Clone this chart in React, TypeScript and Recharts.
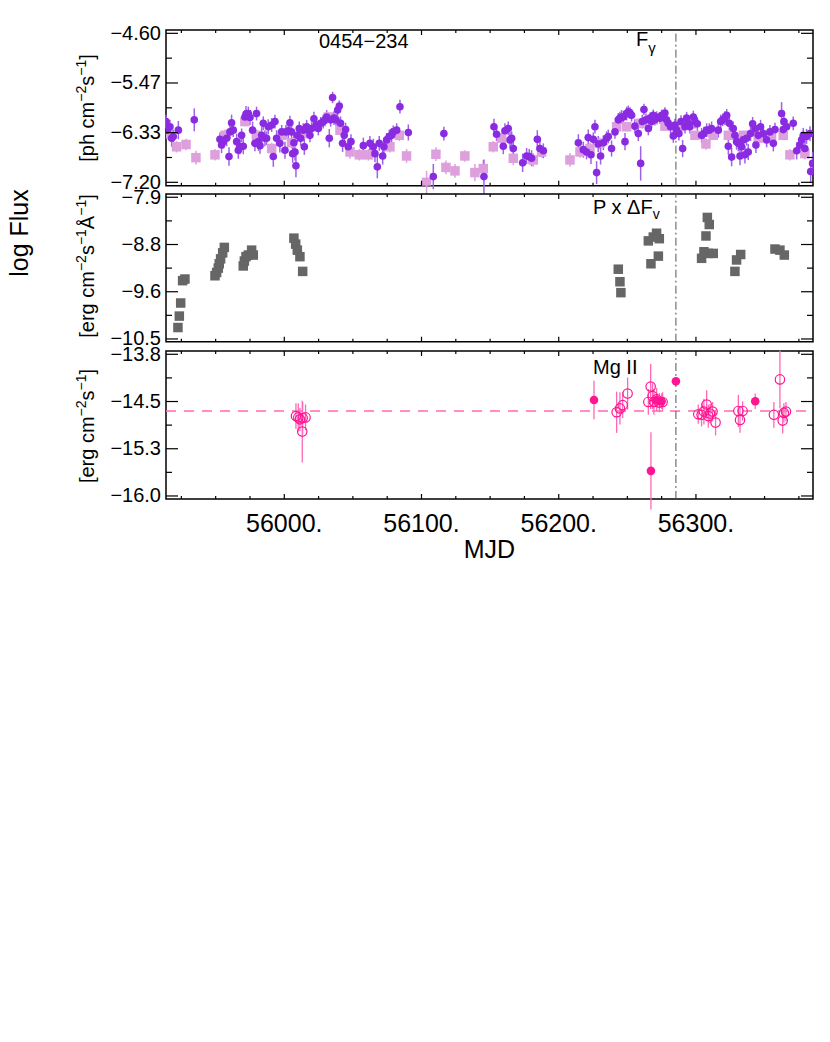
import React from "react";
import {
  ScatterChart,
  Scatter,
  XAxis,
  YAxis,
  ErrorBar,
  ReferenceLine,
  ReferenceArea,
} from "recharts";

const FONT = '"Liberation Sans", Arial, Helvetica, sans-serif';

// shared time axis (MJD)
const mjdDomain: [number, number] = [55913.8, 56385.3];
const mjdTicks = [
  55925, 55950, 55975, 56000, 56025, 56050, 56075, 56100, 56125, 56150, 56175,
  56200, 56225, 56250, 56275, 56300, 56325, 56350, 56375,
];
const mjdLabels = [56000, 56100, 56200, 56300];
const flareMjd = 56285.4;

// panel 1: gamma-ray flux
const gammaDomain: [number, number] = [-7.259, -4.542];
const gammaTicks = [-4.6, -5.0333, -5.4667, -5.9, -6.3333, -6.7667, -7.2];
const gammaTickLabels = ["\u22124.60", "", "\u22125.47", "", "\u22126.33", "", "\u22127.20"];

// weekly bins [mjd, logF, err]
const fermiWeekly: [number, number, number][] = [
  [55914.7, -6.35, 0.1], [55921.5, -6.58, 0.1], [55928.4, -6.54, 0.1], [55935.6, -6.77, 0.12],
  [55949.5, -6.72, 0.1], [55956.8, -6.38, 0.1], [55971.3, -6.14, 0.08], [55979.8, -6.38, 0.1],
  [55990.8, -6.61, 0.1], [55998.1, -6.38, 0.08], [56005.3, -6.51, 0.1], [56015.1, -6.35, 0.08],
  [56032.1, -6.06, 0.08], [56040.6, -6.29, 0.08], [56047.9, -6.67, 0.12], [56054.7, -6.72, 0.1],
  [56061.2, -6.72, 0.1], [56077.0, -6.58, 0.1], [56083.8, -6.38, 0.1], [56089.1, -6.74, 0.12],
  [56103.7, -7.2, 0.2], [56110.5, -6.71, 0.12], [56117.8, -6.94, 0.12], [56124.4, -7.0, 0.12],
  [56131.6, -6.74, 0.1], [56138.9, -7.03, 0.15], [56145.0, -6.96, 0.15], [56152.3, -6.58, 0.1],
  [56158.4, -6.43, 0.1], [56166.9, -6.78, 0.12], [56181.5, -6.81, 0.12], [56187.5, -6.67, 0.1],
  [56208.2, -6.81, 0.12], [56215.5, -6.67, 0.1], [56222.8, -6.61, 0.1], [56230.0, -6.52, 0.1],
  [56242.2, -6.23, 0.08], [56249.5, -6.23, 0.08], [56259.2, -6.17, 0.08], [56268.9, -6.11, 0.06],
  [56277.4, -6.22, 0.06], [56288.3, -6.23, 0.08], [56299.3, -6.38, 0.08], [56307.3, -6.53, 0.1],
  [56312.6, -6.38, 0.08], [56323.6, -6.38, 0.08], [56334.5, -6.38, 0.08], [56345.4, -6.43, 0.08],
  [56355.1, -6.38, 0.08], [56363.6, -6.38, 0.08], [56368.5, -6.72, 0.1], [56379.4, -6.7, 0.1],
];

// daily bins [mjd, logF, err]
const fermiDaily: [number, number, number][] = [
  [55913.8, -6.14, 0.12], [55914.7, -6.29, 0.14], [55916.7, -6.23, 0.12], [55917.9, -6.43, 0.15],
  [55919.1, -6.4, 0.12], [55922.8, -6.29, 0.16], [55934.4, -6.11, 0.2], [55953.1, -6.45, 0.12],
  [55954.3, -6.55, 0.14], [55955.6, -6.49, 0.12], [55958.0, -6.43, 0.14], [55959.7, -6.75, 0.16],
  [55960.4, -6.32, 0.12], [55961.6, -6.16, 0.14], [55962.8, -6.29, 0.12], [55965.3, -6.49, 0.14],
  [55966.5, -6.64, 0.15], [55967.7, -6.58, 0.13], [55968.9, -6.38, 0.12], [55970.1, -6.57, 0.14],
  [55971.3, -6.06, 0.12], [55972.1, -6.01, 0.14], [55973.8, -6.0, 0.12], [55975.0, -6.07, 0.13],
  [55976.9, -6.29, 0.15], [55978.6, -6.52, 0.14], [55979.8, -6.0, 0.12], [55981.1, -6.49, 0.16],
  [55982.3, -6.56, 0.14], [55983.5, -6.38, 0.15], [55984.7, -6.17, 0.12], [55985.9, -6.43, 0.14],
  [55987.1, -6.43, 0.12], [55988.3, -6.23, 0.13], [55990.8, -6.2, 0.12], [55992.0, -6.75, 0.18],
  [55993.2, -6.14, 0.12], [55994.4, -6.43, 0.14], [55996.8, -6.52, 0.16], [55998.1, -6.32, 0.12],
  [56000.5, -6.64, 0.15], [56001.2, -6.32, 0.12], [56002.9, -6.3, 0.13], [56004.1, -6.16, 0.12],
  [56005.3, -6.32, 0.12], [56006.1, -6.7, 0.16], [56007.0, -6.51, 0.14], [56007.8, -6.67, 0.15],
  [56008.5, -6.91, 0.2], [56009.5, -6.38, 0.12], [56010.9, -6.26, 0.12], [56011.9, -6.43, 0.13],
  [56013.8, -6.29, 0.12], [56014.6, -6.58, 0.14], [56016.3, -6.23, 0.12], [56017.5, -6.29, 0.11],
  [56018.7, -6.38, 0.12], [56019.9, -6.26, 0.11], [56021.6, -6.09, 0.12], [56023.1, -6.2, 0.11],
  [56024.8, -6.26, 0.12], [56026.5, -6.17, 0.11], [56028.4, -6.14, 0.12], [56029.6, -6.11, 0.11],
  [56030.9, -6.06, 0.12], [56032.8, -6.43, 0.16], [56033.8, -6.11, 0.12], [56035.2, -5.72, 0.1],
  [56036.2, -6.08, 0.12], [56037.7, -6.11, 0.11], [56038.9, -5.94, 0.11], [56040.1, -5.87, 0.1],
  [56041.0, -6.17, 0.12], [56042.5, -6.52, 0.15], [56043.7, -6.38, 0.13], [56044.7, -6.28, 0.12],
  [56046.6, -6.58, 0.14], [56048.6, -6.49, 0.13], [56057.6, -6.56, 0.14], [56062.4, -6.52, 0.13],
  [56064.9, -6.58, 0.14], [56066.1, -6.7, 0.15], [56067.8, -6.93, 0.2], [56069.2, -6.52, 0.13],
  [56071.7, -6.74, 0.15], [56072.6, -6.58, 0.13], [56074.6, -6.46, 0.12], [56076.5, -6.4, 0.12],
  [56078.2, -6.38, 0.12], [56079.4, -6.32, 0.11], [56081.9, -6.29, 0.12], [56084.3, -5.88, 0.12],
  [56090.4, -6.33, 0.14], [56108.6, -7.1, 0.22], [56116.3, -6.35, 0.12], [56145.5, -7.1, 0.3],
  [56152.8, -6.23, 0.14], [56154.7, -6.36, 0.12], [56159.6, -6.57, 0.14], [56160.8, -6.3, 0.13],
  [56163.2, -6.26, 0.12], [56164.5, -6.46, 0.14], [56165.7, -6.43, 0.12], [56166.9, -6.61, 0.14],
  [56173.7, -6.86, 0.16], [56176.6, -6.74, 0.14], [56178.5, -6.75, 0.13], [56180.2, -6.78, 0.14],
  [56184.4, -6.45, 0.16], [56186.3, -6.61, 0.14], [56188.8, -6.65, 0.13], [56214.3, -6.51, 0.15],
  [56217.9, -6.63, 0.14], [56220.3, -6.67, 0.13], [56221.5, -6.42, 0.14], [56223.5, -6.72, 0.16],
  [56225.2, -6.45, 0.12], [56226.4, -6.23, 0.12], [56227.6, -7.03, 0.2], [56228.8, -6.53, 0.14],
  [56230.5, -6.74, 0.15], [56232.5, -6.51, 0.13], [56234.9, -6.43, 0.12], [56236.1, -6.4, 0.12],
  [56238.5, -6.61, 0.14], [56241.0, -6.32, 0.12], [56243.4, -6.11, 0.12], [56244.6, -6.08, 0.11],
  [56245.8, -6.06, 0.12], [56247.1, -6.06, 0.11], [56248.3, -6.49, 0.15], [56249.5, -6.0, 0.12],
  [56250.7, -5.97, 0.11], [56251.9, -5.99, 0.1], [56253.1, -6.03, 0.11], [56255.5, -6.22, 0.12],
  [56258.0, -6.35, 0.13], [56259.7, -6.87, 0.3], [56260.9, -6.14, 0.12], [56262.1, -5.93, 0.1],
  [56263.6, -6.11, 0.11], [56265.3, -6.26, 0.12], [56266.5, -6.08, 0.1], [56267.7, -6.14, 0.11],
  [56268.9, -6.03, 0.1], [56270.1, -6.11, 0.1], [56271.3, -6.06, 0.1], [56273.8, -6.08, 0.1],
  [56275.0, -6.03, 0.1], [56276.2, -6.06, 0.1], [56277.4, -5.99, 0.1], [56278.6, -6.11, 0.1],
  [56279.8, -6.17, 0.11], [56281.5, -6.23, 0.11], [56283.5, -6.39, 0.12], [56284.7, -6.2, 0.11],
  [56285.9, -6.29, 0.11], [56287.6, -6.35, 0.12], [56289.1, -6.14, 0.11], [56290.3, -6.61, 0.15],
  [56292.0, -6.23, 0.12], [56293.2, -6.08, 0.11], [56294.4, -6.17, 0.12], [56295.6, -6.23, 0.12],
  [56298.1, -6.06, 0.11], [56299.3, -6.14, 0.12], [56301.0, -6.18, 0.12], [56304.1, -6.38, 0.13],
  [56305.8, -6.35, 0.12], [56307.8, -6.29, 0.12], [56309.7, -6.29, 0.12], [56311.4, -6.26, 0.12],
  [56316.3, -6.29, 0.13], [56318.0, -6.14, 0.12], [56319.4, -6.11, 0.11], [56321.1, -6.08, 0.12],
  [56322.4, -6.03, 0.11], [56323.6, -6.57, 0.15], [56324.3, -6.17, 0.12], [56326.0, -6.76, 0.16],
  [56327.2, -6.26, 0.12], [56328.4, -6.38, 0.13], [56329.6, -6.49, 0.14], [56330.9, -6.52, 0.14],
  [56332.1, -6.74, 0.16], [56333.3, -6.58, 0.14], [56334.5, -6.46, 0.13], [56335.7, -6.72, 0.15],
  [56336.9, -6.43, 0.13], [56338.1, -6.67, 0.14], [56339.8, -6.35, 0.13], [56341.3, -6.18, 0.12],
  [56343.0, -6.26, 0.12], [56343.7, -6.55, 0.14], [56345.4, -6.38, 0.13], [56347.1, -6.23, 0.12],
  [56349.1, -6.35, 0.13], [56351.5, -6.46, 0.13], [56353.9, -6.32, 0.12], [56356.4, -6.52, 0.14],
  [56357.6, -6.28, 0.12], [56362.4, -6.0, 0.2], [56363.6, -6.28, 0.13], [56364.1, -6.14, 0.12],
  [56366.1, -6.23, 0.12], [56370.9, -6.17, 0.12], [56373.4, -6.65, 0.15], [56375.8, -6.55, 0.14],
  [56377.0, -6.46, 0.13], [56378.2, -6.38, 0.13], [56379.4, -6.61, 0.14], [56380.6, -6.4, 0.13],
  [56383.1, -6.35, 0.13], [56383.6, -7.01, 0.2], [56385.0, -6.87, 0.2],
];

// panel 2: polarized optical flux
const optDomain: [number, number] = [-10.55, -7.84];
const optTicks = [-7.9, -8.3333, -8.7667, -9.2, -9.6333, -10.0667, -10.5];
const optTickLabels = ["\u22127.9", "", "\u22128.8", "", "\u22129.6", "", "\u221210.5"];

const optical: [number, number][] = [
  [55922.5, -10.29], [55923.5, -10.08], [55924.5, -9.84], [55925.9, -9.43], [55927.6, -9.4],
  [55949.5, -9.34], [55950.7, -9.28], [55951.9, -9.2], [55952.6, -9.12], [55953.6, -9.03],
  [55955.1, -8.92], [55956.3, -8.82], [55970.1, -9.16], [55970.9, -9.07], [55972.1, -8.99],
  [55973.8, -8.96], [55976.2, -8.87], [55977.4, -8.96], [56007.0, -8.65], [56008.3, -8.76],
  [56009.5, -8.87], [56011.4, -8.99], [56013.4, -9.26], [56243.4, -9.22], [56244.6, -9.45],
  [56245.3, -9.65], [56265.3, -8.7], [56267.2, -9.12], [56268.9, -8.63], [56271.3, -8.56],
  [56272.6, -8.98], [56273.3, -8.66], [56304.1, -9.02], [56305.8, -8.9], [56307.3, -8.61],
  [56308.3, -8.27], [56309.0, -8.93], [56309.7, -8.4], [56312.6, -8.93], [56328.4, -9.26],
  [56329.6, -9.05], [56332.6, -8.95], [56357.6, -8.85], [56361.2, -8.87], [56364.4, -8.96],
];

// panel 3: Mg II line flux
const mgDomain: [number, number] = [-16.047, -13.749];
const mgTicks = [-13.8, -14.1667, -14.5333, -14.9, -15.2667, -15.6333, -16.0];
const mgTickLabels = ["\u221213.8", "", "\u221214.5", "", "\u221215.3", "", "\u221216.0"];
const mgMean = -14.68;

const mgFilled: [number, number, number][] = [
  [56225.7, -14.51, 0.3], [56267.2, -15.61, 0.6], [56271.3, -14.51, 0.12],
  [56275.0, -14.53, 0.12], [56285.4, -14.22, 0.05], [56343.2, -14.53, 0.12],
];

const mgOpen: [number, number, number][] = [
  [56008.5, -14.76, 0.2], [56010.2, -14.78, 0.22], [56011.4, -14.81, 0.18], [56013.1, -15.0, 0.48],
  [56013.4, -14.79, 0.25], [56015.5, -14.78, 0.2], [56242.2, -14.7, 0.32], [56244.6, -14.64, 0.25],
  [56246.6, -14.59, 0.2], [56250.2, -14.41, 0.25], [56265.3, -14.54, 0.2], [56267.0, -14.3, 0.35],
  [56268.4, -14.45, 0.2], [56269.4, -14.54, 0.2], [56271.3, -14.5, 0.18], [56273.3, -14.55, 0.15],
  [56275.7, -14.54, 0.15], [56301.7, -14.73, 0.15], [56304.1, -14.74, 0.18], [56305.8, -14.69, 0.2],
  [56307.8, -14.58, 0.22], [56309.0, -14.76, 0.18], [56310.2, -14.72, 0.15], [56312.1, -14.69, 0.15],
  [56314.3, -14.86, 0.2], [56330.9, -14.68, 0.25], [56332.1, -14.82, 0.2], [56334.0, -14.68, 0.15],
  [56356.8, -14.74, 0.2], [56361.2, -14.19, 0.45], [56363.2, -14.83, 0.2], [56364.1, -14.71, 0.15],
  [56365.6, -14.69, 0.15],
];

const CHART_W = 830;
const CHART_H = 600;
const PLOT_LEFT = 166;
const PLOT_RIGHT = 813;

const withErr = (rows: [number, number, number][]) => rows.map(([x, y, e]) => ({ x, y, e }));
const noErr = (rows: [number, number][]) => rows.map(([x, y]) => ({ x, y }));

const square = (size: number, fill: string) => (p: any) =>
  <rect x={p.cx - size / 2} y={p.cy - size / 2} width={size} height={size} fill={fill} />;
const dot = (r: number, fill: string, stroke = "none") => (p: any) =>
  <circle cx={p.cx} cy={p.cy} r={r} fill={fill} stroke={stroke} strokeWidth={1.2} />;

interface PanelProps {
  plotTop: number;
  plotBottom: number;
  yDomain: [number, number];
  yTicks: number[];
  yTickLabels: string[];
  showXLabels?: boolean;
  children: React.ReactNode;
}

function Panel({ plotTop, plotBottom, yDomain, yTicks, yTickLabels, showXLabels, children }: PanelProps) {
  const xTick = (p: any) => {
    const major = mjdLabels.includes(p.payload.value);
    const len = major ? 5 : 3;
    return (
      <g>
        <line x1={p.x} x2={p.x} y1={plotBottom} y2={plotBottom - len} stroke="#000" strokeWidth={1.2} />
        <line x1={p.x} x2={p.x} y1={plotTop} y2={plotTop + len} stroke="#000" strokeWidth={1.2} />
        {showXLabels && major && (
          <text x={p.x} y={plotBottom + 33} textAnchor="middle" fontSize={25} fontFamily={FONT} fill="#000">
            {p.payload.value}.
          </text>
        )}
      </g>
    );
  };
  const yTick = (p: any) => {
    const i = yTicks.indexOf(p.payload.value);
    const label = yTickLabels[i] || "";
    const len = label ? 12 : 6;
    return (
      <g>
        <line x1={PLOT_LEFT} x2={PLOT_LEFT + len} y1={p.y} y2={p.y} stroke="#000" strokeWidth={1.2} />
        <line x1={PLOT_RIGHT} x2={PLOT_RIGHT - len} y1={p.y} y2={p.y} stroke="#000" strokeWidth={1.2} />
        {label && (
          <text x={PLOT_LEFT - 5} y={p.y + 6.5} textAnchor="end" fontSize={20} fontFamily={FONT} fill="#000">
            {label}
          </text>
        )}
      </g>
    );
  };
  return (
    <div style={{ position: "absolute", left: 0, top: 0 }}>
      <ScatterChart
        width={CHART_W}
        height={CHART_H}
        margin={{ top: plotTop, right: CHART_W - PLOT_RIGHT, bottom: CHART_H - plotBottom - 20, left: PLOT_LEFT - 60 }}
      >
        <XAxis
          type="number"
          dataKey="x"
          domain={mjdDomain}
          ticks={mjdTicks}
          interval={0}
          allowDataOverflow
          axisLine={false}
          tickLine={false}
          height={20}
          tick={xTick}
        />
        <YAxis
          type="number"
          dataKey="y"
          domain={yDomain}
          ticks={yTicks}
          interval={0}
          allowDataOverflow
          axisLine={false}
          tickLine={false}
          width={60}
          tick={yTick}
        />
        {children}
        <ReferenceLine x={flareMjd} stroke="#555" strokeWidth={1} strokeDasharray="8 3 2 3" />
        <ReferenceArea
          x1={mjdDomain[0]}
          x2={mjdDomain[1]}
          y1={yDomain[0]}
          y2={yDomain[1]}
          fill="none"
          stroke="#000"
          strokeWidth={1.5}
          ifOverflow="visible"
        />
      </ScatterChart>
    </div>
  );
}

export default function App() {
  return (
    <div style={{ position: "absolute", left: 0, top: 0, width: 830, height: 1042, background: "#fff" }}>
      {/* Gamma rays */}
      <Panel plotTop={30} plotBottom={185.7} yDomain={gammaDomain} yTicks={gammaTicks} yTickLabels={gammaTickLabels}>
        <Scatter data={withErr(fermiWeekly)} shape={square(9.5, "#DDA0DD")} isAnimationActive={false}>
          <ErrorBar dataKey="e" direction="y" width={0} stroke="#DDA0DD" strokeWidth={1.5} />
        </Scatter>
        <Scatter data={withErr(fermiDaily)} shape={dot(3.8, "#8A2BE2")} isAnimationActive={false}>
          <ErrorBar dataKey="e" direction="y" width={0} stroke="#A060E8" strokeWidth={1.5} />
        </Scatter>
      </Panel>

      {/* Polarized optical */}
      <Panel plotTop={194} plotBottom={341.7} yDomain={optDomain} yTicks={optTicks} yTickLabels={optTickLabels}>
        <Scatter data={noErr(optical)} shape={square(9.5, "#666666")} isAnimationActive={false} />
      </Panel>

      {/* Mg II */}
      <Panel plotTop={351} plotBottom={499} yDomain={mgDomain} yTicks={mgTicks} yTickLabels={mgTickLabels} showXLabels>
        <ReferenceLine y={mgMean} stroke="#FF69B4" strokeWidth={1.5} strokeDasharray="10 8" />
        <Scatter data={withErr(mgOpen)} shape={dot(4.7, "none", "#FF1493")} isAnimationActive={false}>
          <ErrorBar dataKey="e" direction="y" width={0} stroke="#FF69B4" strokeWidth={1.3} />
        </Scatter>
        <Scatter data={withErr(mgFilled)} shape={dot(4.3, "#FF1493")} isAnimationActive={false}>
          <ErrorBar dataKey="e" direction="y" width={0} stroke="#FF69B4" strokeWidth={1.3} />
        </Scatter>
      </Panel>

      <svg width={830} height={1042} style={{ position: "absolute", left: 0, top: 0, pointerEvents: "none" }} fontFamily={FONT}>
        <text x={28} y={233} transform="rotate(-90 28 233)" textAnchor="middle" fontSize={25}>log Flux</text>

        <text x={94} y={108} transform="rotate(-90 94 108)" textAnchor="middle" fontSize={20}>
          [ph cm<tspan dy={-8} fontSize={14}>{"\u22122"}</tspan>
          <tspan dy={8}>s</tspan>
          <tspan dy={-8} fontSize={14}>{"\u22121"}</tspan>
          <tspan dy={8}>]</tspan>
        </text>
        <text x={94} y={266} transform="rotate(-90 94 266)" textAnchor="middle" fontSize={20}>
          [erg cm<tspan dy={-8} fontSize={14}>{"\u22122"}</tspan>
          <tspan dy={8}>s</tspan>
          <tspan dy={-8} fontSize={14}>{"\u22121"}</tspan>
          <tspan dy={8}>Å</tspan>
          <tspan dy={-8} fontSize={14}>{"\u22121"}</tspan>
          <tspan dy={8}>]</tspan>
        </text>
        <text x={94} y={426} transform="rotate(-90 94 426)" textAnchor="middle" fontSize={20}>
          [erg cm<tspan dy={-8} fontSize={14}>{"\u22122"}</tspan>
          <tspan dy={8}>s</tspan>
          <tspan dy={-8} fontSize={14}>{"\u22121"}</tspan>
          <tspan dy={8}>]</tspan>
        </text>

        <text x={319} y={48} fontSize={20}>{"0454\u2212234"}</text>
        <text x={636} y={46} fontSize={20}>
          F<tspan dy={7} fontSize={15}>γ</tspan>
        </text>
        <text x={593} y={214} fontSize={20}>
          P x ΔF<tspan dy={5} fontSize={14}>v</tspan>
        </text>
        <text x={593} y={374} fontSize={20}>Mg II</text>

        <text x={489.5} y={558} textAnchor="middle" fontSize={25}>MJD</text>
      </svg>
    </div>
  );
}
